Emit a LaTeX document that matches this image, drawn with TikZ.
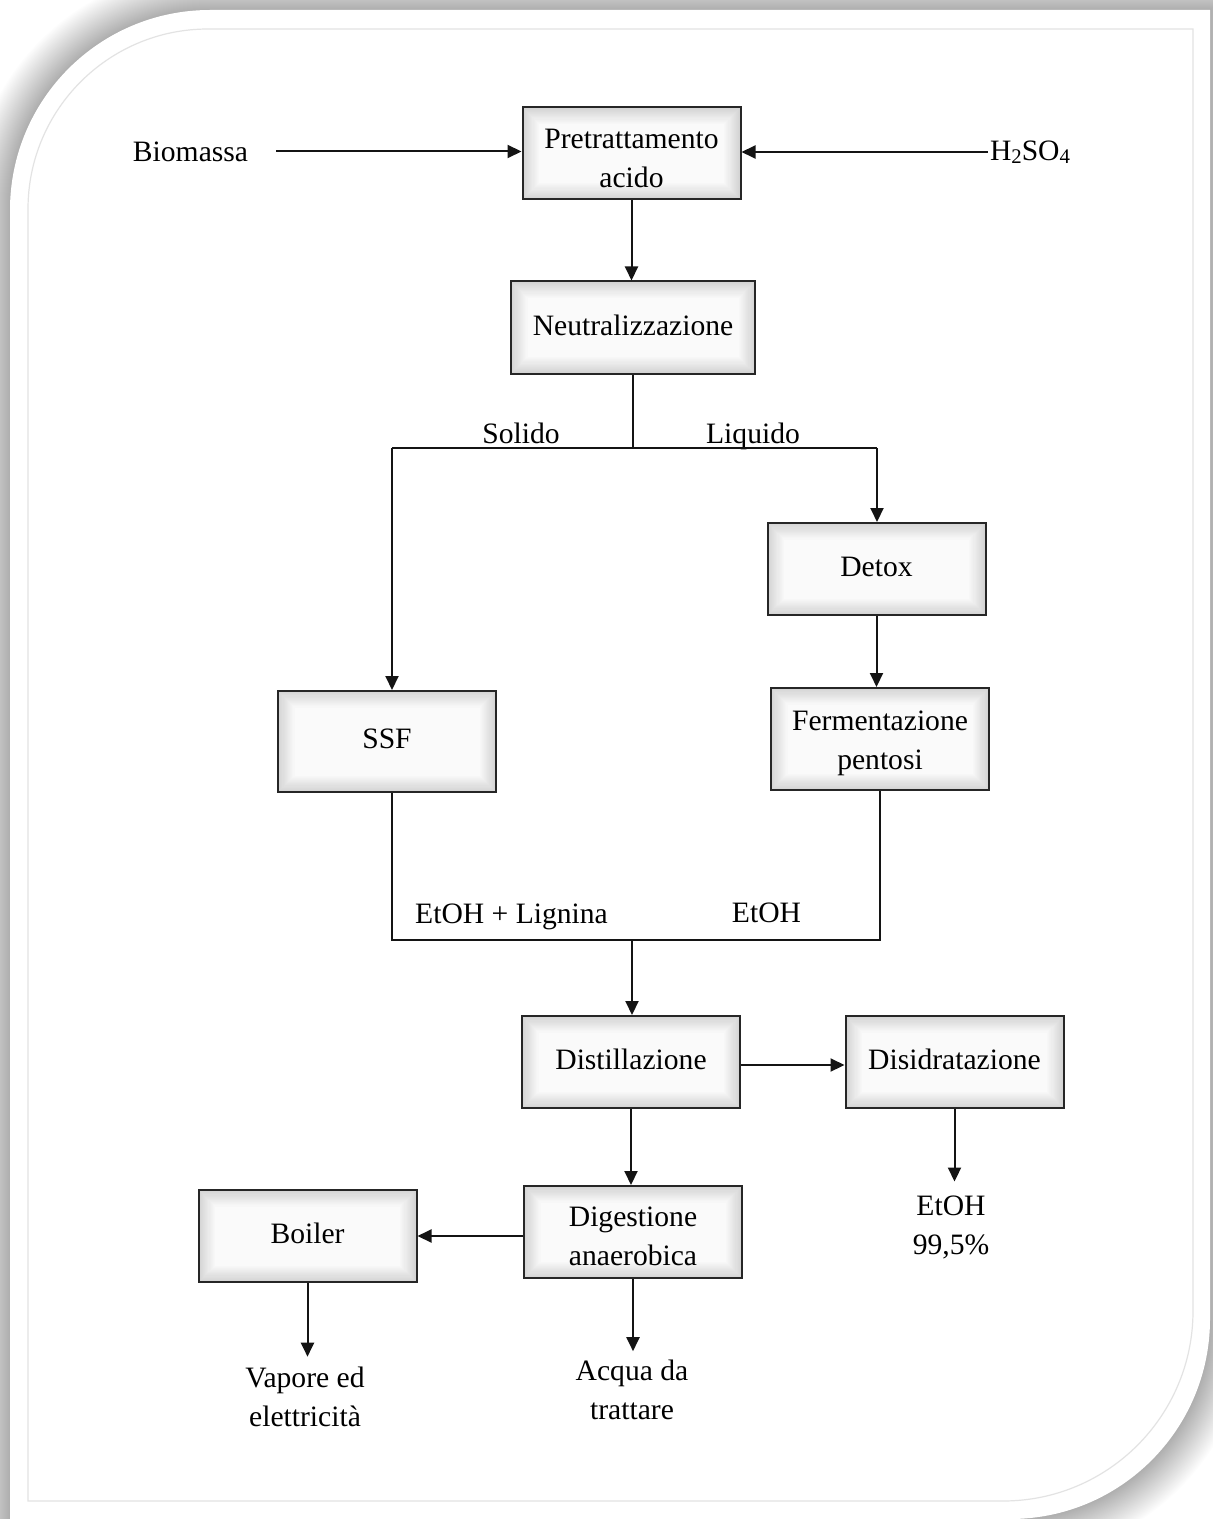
\documentclass[tikz,border=0pt]{standalone}
\usepackage{fontspec}
\setmainfont{Liberation Serif}
\usetikzlibrary{arrows.meta}
% lowered small digits for chemical formulas
\newcommand\sbs[1]{\raisebox{-1.5pt}{\fontsize{10.4pt}{10.4pt}\selectfont #1}}
% invisible strut that gives two-line box labels their top spacing
\newcommand\topgap{\rule{0pt}{14.5pt}}
\begin{document}
\begin{tikzpicture}[x=0.5pt,y=-0.5pt,
  txt/.style={font=\fontsize{14.8pt}{19.5pt}\selectfont, align=center, inner sep=1pt},
  procbox/.style={txt, draw=black!85, line width=1pt,
    minimum width=109pt, minimum height=46pt, inner sep=2pt,
    path picture={
      \foreach \i in {0,...,15}{
        \pgfmathtruncatemacro\boxtone{17-\i}
        \fill[black!\boxtone]
          ([xshift=\i*0.55pt,yshift=-\i*0.55pt]path picture bounding box.north west)
          rectangle
          ([xshift=-\i*0.55pt,yshift=\i*0.55pt]path picture bounding box.south east);
      }
    }},
  oneline/.style={text depth=2.6pt},
  link/.style={line width=1pt, draw=black!92},
  arr/.style={link, -{Triangle[width=6.5pt,length=7pt]}},
]
\useasboundingbox (0,0) rectangle (1213,1519);

% page with two rounded corners and a soft shadow
\begin{scope}
  \clip (0,0) rectangle (1213,1519);
  \fill[white] (0,0) rectangle (1213,1519);
  \foreach \k in {1,...,40}{
    \fill[black, opacity=0.006]
      (10-\k,210) arc[start angle=180,end angle=270,radius=200+\k]
      -- (1210+\k,10-\k) -- (1210+\k,1319)
      arc[start angle=0,end angle=90,radius=200+\k]
      -- (10-\k,1519+\k) -- cycle;
  }
  \fill[white] (10,210) arc[start angle=180,end angle=270,radius=200]
    -- (1210,10) -- (1210,1319)
    arc[start angle=0,end angle=90,radius=200]
    -- (10,1519) -- cycle;
  \draw[black!11, line width=0.6pt]
    (28,209) arc[start angle=180,end angle=270,radius=180]
    -- (1193,29) -- (1193,1311)
    arc[start angle=0,end angle=90,radius=190]
    -- (28,1501) -- cycle;
\end{scope}

% process steps
\node[procbox] (pre) at (631.5,153.5) {\topgap Pretrattamento\\acido};
\node[procbox, oneline, minimum width=122pt] (neu) at (633,327.5) {Neutralizzazione};
\node[procbox, oneline] (detox) at (876.5,569) {Detox};
\node[procbox, oneline, minimum height=50.5pt] (ssf) at (387,741.5) {SSF};
\node[procbox, minimum height=51pt] (ferm) at (880,739) {\topgap Fermentazione\\pentosi};
\node[procbox, oneline] (dist) at (631,1062) {Distillazione};
\node[procbox, oneline] (disid) at (954.5,1062) {Disidratazione};
\node[procbox] (dig) at (633,1232) {\topgap Digestione\\anaerobica};
\node[procbox, oneline] (boiler) at (307.5,1236) {Boiler};

% inputs, outputs and stream labels
\node[txt] (bio) at (190.5,151.5) {Biomassa};
\node[txt] (acid) at (1030,152) {H\sbs{2}SO\sbs{4}};
\node[txt, anchor=base] (solido) at (521,443) {Solido};
\node[txt, anchor=base] (liquido) at (753,443) {Liquido};
\node[txt, anchor=base] (mixlab) at (511.5,923) {EtOH + Lignina};
\node[txt, anchor=base] (etohlab) at (766.5,922) {EtOH};
\node[txt] (etohpure) at (951,1227.5) {EtOH\\99,5\%};
\node[txt] (vapore) at (305,1397) {Vapore ed\\elettricità};
\node[txt] (acqua) at (632,1389.5) {Acqua da\\trattare};

% branching and merging points
\coordinate (split) at (633,448);
\coordinate (sl) at (392,448);
\coordinate (sr) at (877,448);
\coordinate (ml) at (392,940);
\coordinate (mr) at (880,940);
\coordinate (mm) at (632,940);

% connectors
\draw[arr, shorten <=13pt] (bio.east) -- (bio.east -| pre.west);
\draw[arr] (acid.west) -- (acid.west -| pre.east);
\draw[arr] (pre.south) -- (pre.south |- neu.north);
\draw[link] (neu.south) -- (split);
\draw[link] (sl) -- (sr);
\draw[arr] (sl) -- (sl |- ssf.north);
\draw[arr] (sr) -- (sr |- detox.north);
\draw[arr] (detox.south) -- (detox.south |- ferm.north);
\draw[link] (ml |- ssf.south) -- (ml) -- (mr) -- (mr |- ferm.south);
\draw[arr] (mm) -- (mm |- dist.north);
\draw[arr] ([yshift=-1.5pt]dist.east) -- ([yshift=-1.5pt]disid.west);
\draw[arr] (dist.south) -- (dist.south |- dig.north);
\draw[arr, shorten >=6pt] (disid.south) -- (disid.south |- etohpure.north);
\draw[arr] (boiler.east -| dig.west) -- (boiler.east);
\draw[arr, shorten >=4pt] (boiler.south) -- (boiler.south |- vapore.north);
\draw[arr, shorten >=3pt] (dig.south) -- (dig.south |- acqua.north);
\end{tikzpicture}
\end{document}
